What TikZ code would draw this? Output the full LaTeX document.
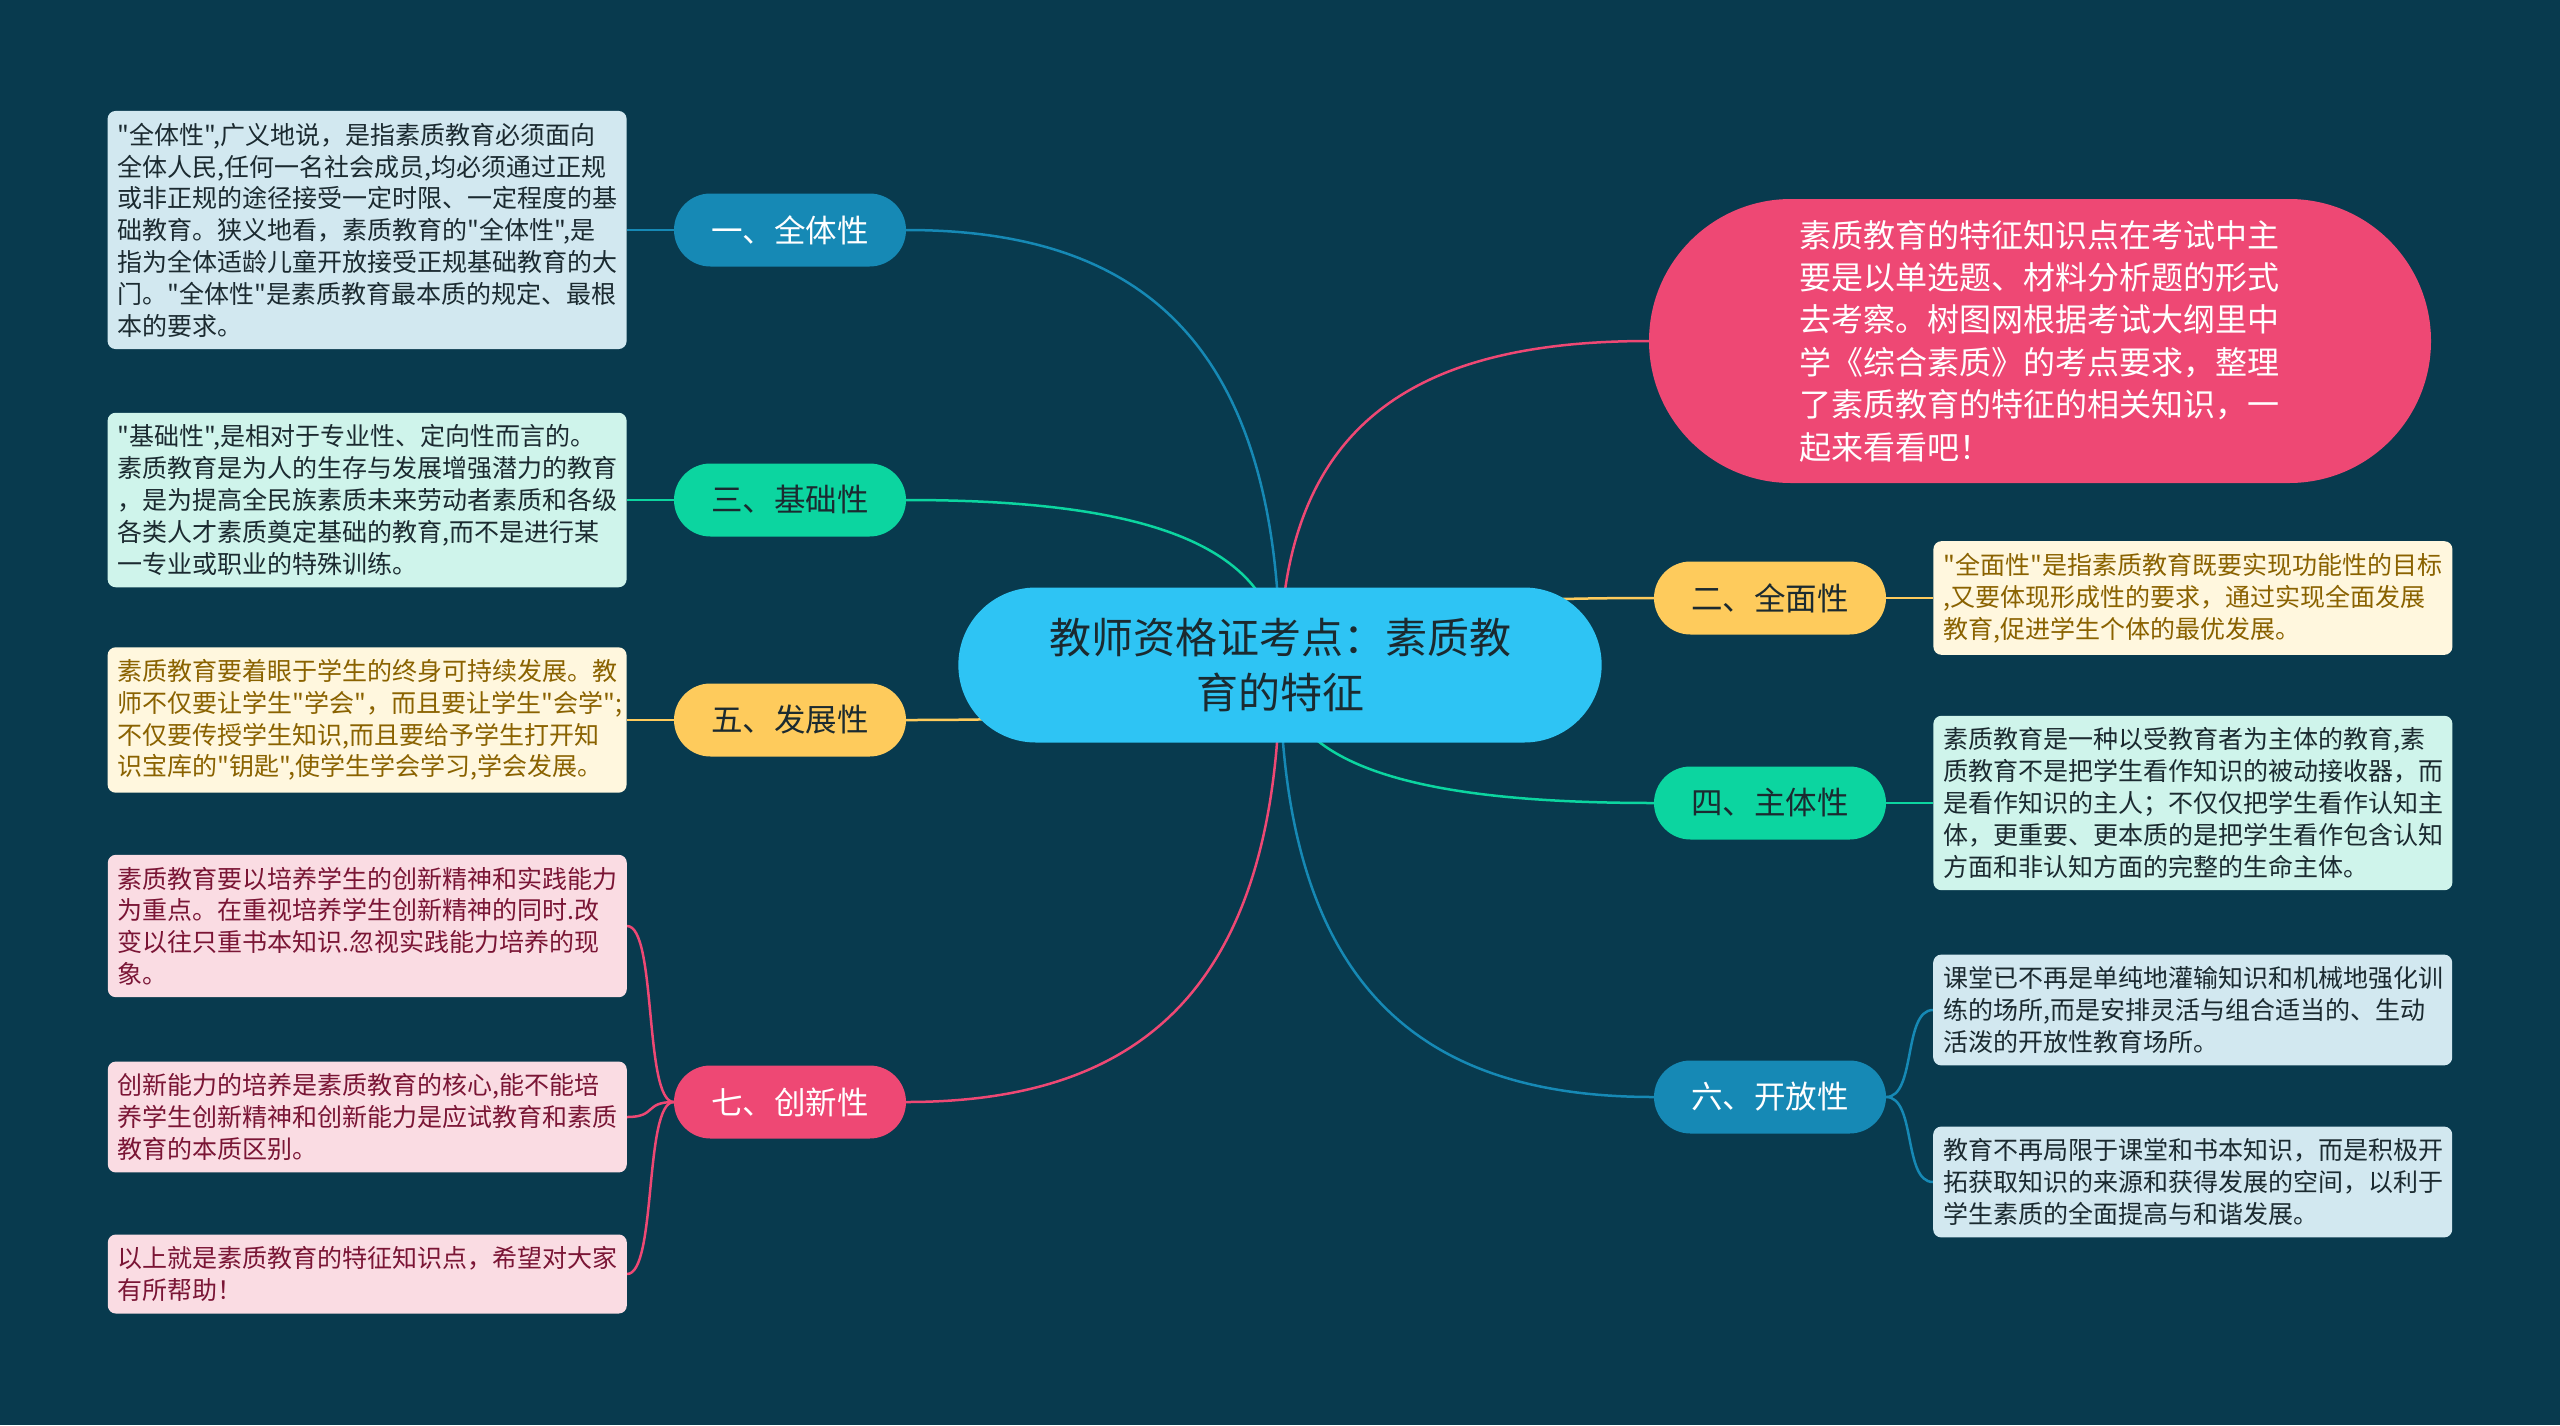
\documentclass[tikz,border=0pt]{standalone}
\usepackage{fontspec}
\setmainfont{Noto Sans CJK SC}[Ligatures=TeXOff]
\usepackage{xcolor}
\usetikzlibrary{positioning,shapes.misc}
\definecolor{Night}{HTML}{083A4E}
\definecolor{Sky}{HTML}{2EC4F4}
\definecolor{Ocean}{HTML}{1689B5}
\definecolor{Mint}{HTML}{0CD5A0}
\definecolor{Sun}{HTML}{FECB5C}
\definecolor{Rose}{HTML}{EE4874}
\definecolor{OceanSoft}{HTML}{D2E8F0}
\definecolor{MintSoft}{HTML}{CFF4EB}
\definecolor{SunSoft}{HTML}{FFF7DE}
\definecolor{RoseSoft}{HTML}{FADCE3}
\definecolor{Ink}{HTML}{1B2A30}
\definecolor{Brown}{HTML}{8A6200}
\definecolor{Wine}{HTML}{7A1535}
\pgfdeclarelayer{back}
\pgfdeclarelayer{wires}
\pgfsetlayers{back,wires,main}
\tikzset{
  root/.style={rounded rectangle,fill=Sky,minimum width=650pt,minimum height=155pt,align=center,font=\fontsize{42}{55}\selectfont,text=Ink},
  topic/.style={rounded rectangle,fill=#1,minimum width=232pt,minimum height=73pt,inner xsep=0pt,font=\fontsize{31.5}{36}\selectfont,text=Ink},
  bubble/.style={rounded rectangle,fill=Rose,minimum width=782pt,minimum height=284pt,inner xsep=0pt,text width=482pt,align=left,font=\fontsize{32}{42.4}\selectfont,text=white},
  leaf/.style={fill=#1,rounded corners=8pt,text width=499pt,inner xsep=10pt,inner ysep=12pt,align=left,font=\fontsize{25}{31.8}\selectfont},
  link/.style={draw=#1,line width=2.5pt}
}

\begin{document}
\begin{tikzpicture}[x=1pt,y=-1pt,node distance=47pt]
  \begin{pgfonlayer}{back}
    \fill[Night] (0,0) rectangle (2560,1425);
  \end{pgfonlayer}
  \useasboundingbox (0,0) rectangle (2560,1425);

  \node[root] (root) at (1280,665) {教师资格证考点：素质教\\育的特征};
  \node[bubble] (intro) at (2040,341) {素质教育的特征知识点在考试中主\\要是以单选题、材料分析题的形式\\去考察。树图网根据考试大纲里中\\学《综合素质》的考点要求，整理\\了素质教育的特征的相关知识，一\\起来看看吧！};

  % left side
  \node[topic=Ocean,text=white] (t1) at (790,230) {一、全体性};
  \node[topic=Mint] (t3) at (790,500) {三、基础性};
  \node[topic=Sun] (t5) at (790,720) {五、发展性};
  \node[topic=Rose,text=white] (t7) at (790,1102) {七、创新性};

  % right side
  \node[topic=Sun] (t2) at (1770,598) {二、全面性};
  \node[topic=Mint] (t4) at (1770,803) {四、主体性};
  \node[topic=Ocean,text=white] (t6) at (1770,1097) {六、开放性};

  \node[leaf=OceanSoft,text=Ink,left=of t1] (l1) {"全体性",广义地说，是指素质教育必须面向\\全体人民,任何一名社会成员,均必须通过正规\\或非正规的途径接受一定时限、一定程度的基\\础教育。狭义地看，素质教育的"全体性",是\\指为全体适龄儿童开放接受正规基础教育的大\\门。"全体性"是素质教育最本质的规定、最根\\本的要求。};
  \node[leaf=MintSoft,text=Ink,left=of t3] (l3) {"基础性",是相对于专业性、定向性而言的。\\素质教育是为人的生存与发展增强潜力的教育\\，是为提高全民族素质未来劳动者素质和各级\\各类人才素质奠定基础的教育,而不是进行某\\一专业或职业的特殊训练。};
  \node[leaf=SunSoft,text=Brown,left=of t5] (l5) {素质教育要着眼于学生的终身可持续发展。教\\师不仅要让学生"学会"，而且要让学生"会学";\\不仅要传授学生知识,而且要给予学生打开知\\识宝库的"钥匙",使学生学会学习,学会发展。};
  \node[leaf=RoseSoft,text=Wine,anchor=east] (l7a) at (627,926) {素质教育要以培养学生的创新精神和实践能力\\为重点。在重视培养学生创新精神的同时.改\\变以往只重书本知识.忽视实践能力培养的现\\象。};
  \node[leaf=RoseSoft,text=Wine,anchor=east] (l7b) at (627,1117) {创新能力的培养是素质教育的核心,能不能培\\养学生创新精神和创新能力是应试教育和素质\\教育的本质区别。};
  \node[leaf=RoseSoft,text=Wine,anchor=east] (l7c) at (627,1274) {以上就是素质教育的特征知识点，希望对大家\\有所帮助！};

  \node[leaf=SunSoft,text=Brown,right=of t2] (l2) {"全面性"是指素质教育既要实现功能性的目标\\,又要体现形成性的要求，通过实现全面发展\\教育,促进学生个体的最优发展。};
  \node[leaf=MintSoft,text=Ink,right=of t4] (l4) {素质教育是一种以受教育者为主体的教育,素\\质教育不是把学生看作知识的被动接收器，而\\是看作知识的主人；不仅仅把学生看作认知主\\体，更重要、更本质的是把学生看作包含认知\\方面和非认知方面的完整的生命主体。};
  \node[leaf=OceanSoft,text=Ink,anchor=west] (l6a) at (1933,1010) {课堂已不再是单纯地灌输知识和机械地强化训\\练的场所,而是安排灵活与组合适当的、生动\\活泼的开放性教育场所。};
  \node[leaf=OceanSoft,text=Ink,anchor=west] (l6b) at (1933,1182) {教育不再局限于课堂和书本知识，而是积极开\\拓获取知识的来源和获得发展的空间，以利于\\学生素质的全面提高与和谐发展。};

  \begin{pgfonlayer}{wires}
    \draw[link=Ocean] (root.center) .. controls +(0,-335) and +(223,0) .. (t1.east);
    \draw[link=Mint] (root.center) .. controls +(0,-127) and +(223,0) .. (t3.east);
    \draw[link=Sun] (root.center) .. controls +(0,42) and +(223,0) .. (t5.east);
    \draw[link=Rose] (root.center) .. controls +(0,336) and +(223,0) .. (t7.east);
    \draw[link=Rose] (root.center) .. controls +(0,-250) and +(-223,0) .. (intro.west);
    \draw[link=Sun] (root.center) .. controls +(0,-52) and +(-223,0) .. (t2.west);
    \draw[link=Mint] (root.center) .. controls +(0,106) and +(-223,0) .. (t4.west);
    \draw[link=Ocean] (root.center) .. controls +(0,333) and +(-223,0) .. (t6.west);

    \draw[link=Ocean] (t1.west) -- (l1.east);
    \draw[link=Mint] (t3.west) -- (l3.east);
    \draw[link=Sun] (t5.west) -- (l5.east);
    \draw[link=Rose] (t7.west) .. controls +(-30,0) and +(30,0) .. (l7a.east);
    \draw[link=Rose] (t7.west) .. controls +(-30,0) and +(30,0) .. (l7b.east);
    \draw[link=Rose] (t7.west) .. controls +(-30,0) and +(30,0) .. (l7c.east);
    \draw[link=Sun] (t2.east) -- (l2.west);
    \draw[link=Mint] (t4.east) -- (l4.west);
    \draw[link=Ocean] (t6.east) .. controls +(30,0) and +(-30,0) .. (l6a.west);
    \draw[link=Ocean] (t6.east) .. controls +(30,0) and +(-30,0) .. (l6b.west);
  \end{pgfonlayer}
\end{tikzpicture}
\end{document}
